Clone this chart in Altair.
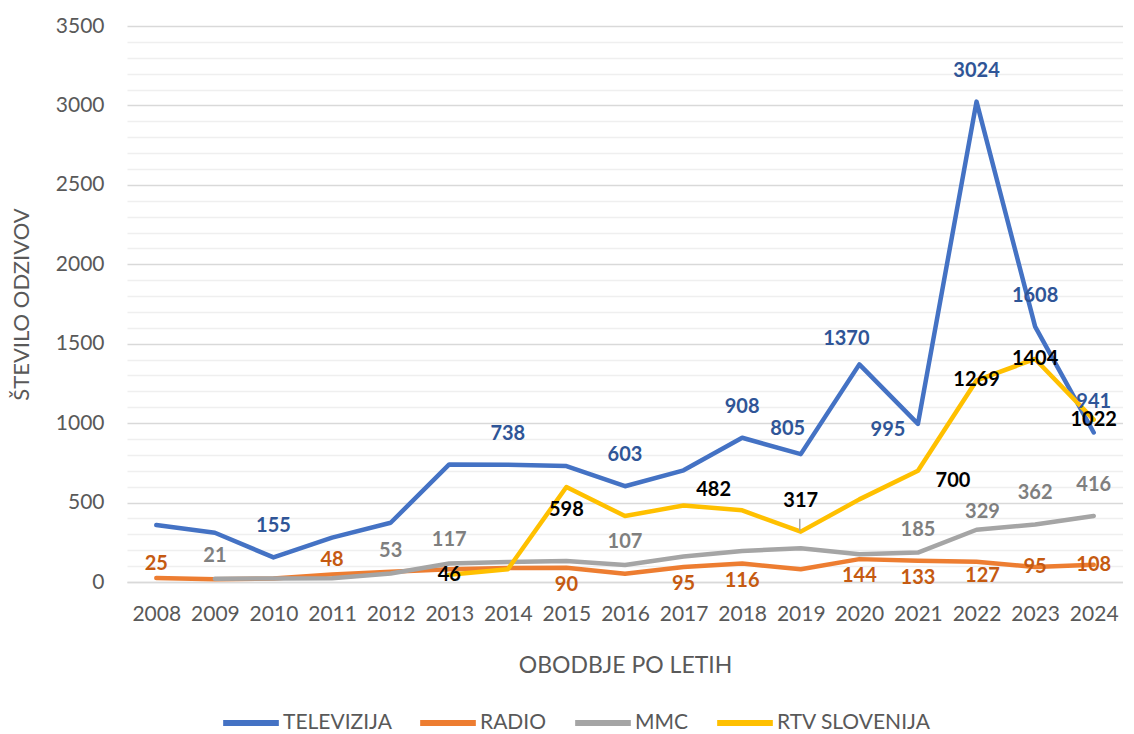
import altair as alt
import pandas as pd

years = [str(y) for y in range(2008, 2025)]
series_names = ["TELEVIZIJA", "RADIO", "MMC", "RTV SLOVENIJA"]

tv = [359, 310, 155, 279, 373, 740, 738, 730, 603, 703, 908, 805, 1370, 995, 3024, 1608, 941]
radio = [25, 17, 22, 48, 65, 80, 88, 90, 52, 95, 116, 80, 144, 133, 127, 95, 108]
mmc = [None, 21, 22, 24, 53, 117, 126, 132, 107, 160, 195, 212, 174, 185, 329, 362, 416]
rtv = [None, None, None, None, None, 46, 80, 598, 415, 482, 451, 317, 520, 700, 1269, 1404, 1022]

# which points carry a data label, and where (placement code)
tv_lab = ["", "", "A", "", "", "", "A", "", "A", "", "A", "AL", "AL", "L", "A", "A", "A"]
radio_lab = ["a", "", "", "a", "", "", "", "B", "", "B", "B", "", "B", "B", "BR", "C", "C"]
mmc_lab = ["", "a2", "", "", "a2", "a2", "", "", "a2", "", "", "", "", "a2", "AR2", "A", "A"]
rtv_lab = ["", "", "", "", "", "C", "", "B2", "", "AR", "", "A", "", "BR2", "C", "C", "C"]

line_colors = ["#4472C4", "#ED7D31", "#A5A5A5", "#FFC000"]
label_colors = ["#2F5597", "#C55A11", "#7F7F7F", "#000000"]

placements = {
    "A": (0, -31), "AL": (-13, -25), "L": (-30, 6), "a": (0, -14),
    "B": (0, 17), "BR": (6, 14), "C": (0, 0), "a2": (0, -23),
    "AR2": (6, -18), "B2": (0, 23), "AR": (30, -15), "BR2": (35, 10),
}

rows = []
for name, vals, labs in zip(series_names, [tv, radio, mmc, rtv], [tv_lab, radio_lab, mmc_lab, rtv_lab]):
    for yr, v, lb in zip(years, vals, labs):
        if v is not None:
            rows.append({"year": yr, "series": name, "value": v, "lab": lb})
df = pd.DataFrame(rows)

FONT = "Lato"
TXT = "#595959"

x_enc = alt.X("year:O", title="OBODBJE PO LETIH",
              scale=alt.Scale(type="point", padding=0.5),
              axis=alt.Axis(labelAngle=0, ticks=False, tickSize=0, grid=False,
                            domain=True, domainColor="#D9D9D9", domainWidth=1.5,
                            labelPadding=21, titlePadding=30,
                            labelFont=FONT, titleFont=FONT, labelFontSize=21, titleFontSize=23,
                            labelColor=TXT, titleColor=TXT, titleFontWeight="normal"))
y_enc = alt.Y("value:Q", title="ŠTEVILO ODZIVOV",
              scale=alt.Scale(domain=[0, 3500], nice=False),
              axis=alt.Axis(values=list(range(0, 3501, 100)), tickCount=40, format="d",
                            labelExpr="datum.value % 500 === 0 ? datum.label : ''",
                            labelOverlap=False,
                            gridColor={"condition": {"test": "datum.value % 500 === 0", "value": "#D9D9D9"},
                                       "value": "#EFEFEF"},
                            gridWidth=1.5, ticks=False, tickSize=0, domain=False,
                            labelPadding=23, titlePadding=22,
                            labelFont=FONT, titleFont=FONT, labelFontSize=21, titleFontSize=22,
                            labelColor=TXT, titleColor=TXT, titleFontWeight="normal"))

lines = alt.Chart(df).mark_line(strokeWidth=4.5, strokeJoin="round", strokeCap="round").encode(
    x=x_enc, y=y_enc,
    color=alt.Color("series:N", sort=series_names,
                    scale=alt.Scale(domain=series_names, range=line_colors),
                    legend=alt.Legend(title=None, orient="none", direction="horizontal",
                                      legendX=93, legendY=666,
                                      symbolType="stroke", symbolStrokeWidth=6, symbolSize=3100,
                                      labelFontSize=21, labelColor=TXT, labelFont=FONT,
                                      columnPadding=16, labelOffset=1)),
)

# thin leader line for the "317" label
leader = alt.Chart(df).transform_filter(
    (alt.datum.series == "RTV SLOVENIJA") & (alt.datum.lab == "A")
).mark_rule(color="#A5A5A5", strokeWidth=1.5, yOffset=-1, y2Offset=-13, xOffset=-1).encode(
    x="year:O", y="value:Q", y2="value:Q"
)

layers = [lines, leader]
for name, col, labs in zip(series_names, label_colors, [tv_lab, radio_lab, mmc_lab, rtv_lab]):
    used = []
    for lb in labs:
        if lb and lb not in used:
            used.append(lb)
    for code in used:
        dx, dy = placements[code]
        layers.append(
            alt.Chart(df).transform_filter(
                (alt.datum.series == name) & (alt.datum.lab == code)
            ).mark_text(dx=dx, dy=dy, color=col, font=FONT, fontSize=20, fontWeight="bold").encode(
                x="year:O", y="value:Q", text="value:Q"
            )
        )

chart = alt.layer(*layers).properties(
    width=996, height=556,
    padding={"left": 2, "top": 7, "right": 0, "bottom": 0},
    background="white",
).configure_view(stroke=None)

chart.save("out.html", embed_options={"renderer": "svg", "actions": False})
